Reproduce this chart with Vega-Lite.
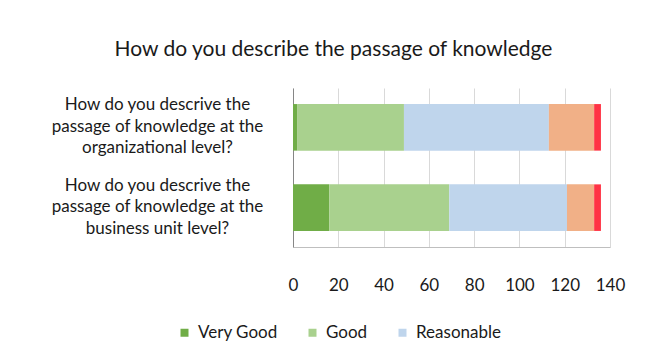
{
  "$schema": "https://vega.github.io/schema/vega-lite/v6.json",
  "autosize": "none",
  "width": 317,
  "height": 159,
  "padding": {"left": 293, "top": 88, "right": 47, "bottom": 100},
  "background": "white",
  "config": {
    "font": "Lato",
    "view": {"stroke": null},
    "axis": {"labelFont": "Lato", "labelColor": "#1a1a1a"}
  },
  "title": {
    "text": "How do you describe the passage of knowledge",
    "font": "Lato",
    "fontSize": 21,
    "fontWeight": "normal",
    "color": "#1a1a1a",
    "anchor": "middle",
    "dx": -118,
    "offset": 28
  },
  "data": {
    "values": [
      {"question": "organizational", "rating": "Very Good", "rank": 1, "count": 2},
      {"question": "organizational", "rating": "Good", "rank": 2, "count": 47},
      {"question": "organizational", "rating": "Reasonable", "rank": 3, "count": 64},
      {"question": "organizational", "rating": "Bad", "rank": 4, "count": 20},
      {"question": "organizational", "rating": "Very Bad", "rank": 5, "count": 3},
      {"question": "business unit", "rating": "Very Good", "rank": 1, "count": 16},
      {"question": "business unit", "rating": "Good", "rank": 2, "count": 53},
      {"question": "business unit", "rating": "Reasonable", "rank": 3, "count": 52},
      {"question": "business unit", "rating": "Bad", "rank": 4, "count": 12},
      {"question": "business unit", "rating": "Very Bad", "rank": 5, "count": 3}
    ]
  },
  "mark": {"type": "bar"},
  "encoding": {
    "y": {
      "field": "question",
      "type": "nominal",
      "sort": null,
      "scale": {"paddingInner": 0.42, "paddingOuter": 0.2},
      "axis": {
        "title": null,
        "ticks": false,
        "domainColor": "#868686",
        "labelAlign": "center",
        "labelPadding": 136,
        "labelFontSize": 17,
        "labelLineHeight": 21.5,
        "labelOffset": -22,
        "labelLimit": 300,
        "labelExpr": "datum.value == 'organizational' ? ['How do you descrive the', 'passage of knowledge at the', 'organizational level?'] : ['How do you descrive the', 'passage of knowledge at the', 'business unit level?']"
      }
    },
    "x": {
      "field": "count",
      "type": "quantitative",
      "stack": "zero",
      "scale": {"domain": [0, 140], "nice": false},
      "axis": {
        "title": null,
        "values": [0, 20, 40, 60, 80, 100, 120, 140],
        "ticks": false,
        "domainColor": "#BFBFBF",
        "gridColor": "#D9D9D9",
        "labelFontSize": 17,
        "labelPadding": 30,
        "labelFlush": false
      }
    },
    "order": {"field": "rank", "type": "quantitative"},
    "color": {
      "field": "rating",
      "type": "nominal",
      "sort": ["Very Good", "Good", "Reasonable", "Bad", "Very Bad"],
      "scale": {
        "domain": ["Very Good", "Good", "Reasonable", "Bad", "Very Bad"],
        "range": ["#70AD47", "#A9D18E", "#BFD5EC", "#F1B087", "#FF3344"]
      },
      "legend": {
        "title": null,
        "orient": "none",
        "legendX": -117,
        "legendY": 236,
        "direction": "horizontal",
        "values": ["Very Good", "Good", "Reasonable"],
        "columnPadding": 26,
        "symbolType": "square",
        "symbolSize": 64,
        "symbolStrokeWidth": 0,
        "labelFont": "Lato",
        "labelFontSize": 17,
        "labelColor": "#1a1a1a",
        "labelOffset": 5
      }
    }
  }
}
